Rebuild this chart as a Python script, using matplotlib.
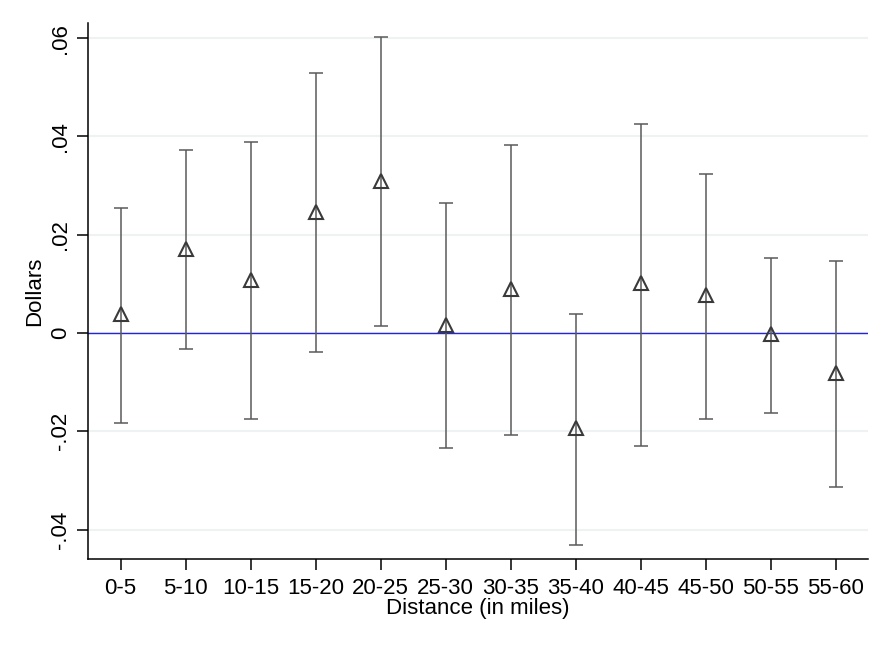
import numpy as np
import matplotlib
matplotlib.use("Agg")
import matplotlib.pyplot as plt

plt.rcParams['font.family'] = ['Liberation Sans', 'DejaVu Sans']

# distance bins and point estimates with confidence bounds
bins = ["0-5", "5-10", "10-15", "15-20", "20-25", "25-30",
        "30-35", "35-40", "40-45", "45-50", "50-55", "55-60"]
est = [0.0039, 0.0171, 0.0107, 0.0247, 0.0310, 0.0016,
       0.0090, -0.0194, 0.0101, 0.0077, -0.0003, -0.0081]
upper = [0.0255, 0.0372, 0.0388, 0.0530, 0.0602, 0.0264,
         0.0382, 0.0038, 0.0426, 0.0324, 0.0152, 0.0146]
lower = [-0.0183, -0.0032, -0.0176, -0.0039, 0.0015, -0.0235,
         -0.0208, -0.0431, -0.0229, -0.0175, -0.0163, -0.0313]
yticks = [-0.04, -0.02, 0, 0.02, 0.04, 0.06]
ytick_labels = ["-.04", "-.02", "0", ".02", ".04", ".06"]

x = np.arange(len(bins))
est = np.array(est)
err = np.array([est - np.array(lower), np.array(upper) - est])

fig = plt.figure(figsize=(8.91, 6.48), dpi=100)
ax = fig.add_axes([88 / 891, 1 - 559 / 648, 780 / 891, 536 / 648])

for yv in yticks:
    ax.axhline(yv, color="#eef2f3", lw=1.5, zorder=0)
ax.axhline(0, color="#2525d8", lw=1.0, zorder=1)

ax.errorbar(x, est, yerr=err, fmt="none", ecolor="#5a5a5a", elinewidth=1.1,
            capsize=5, capthick=1.1, zorder=2)
ax.plot(x, est, linestyle="none", marker="^", markersize=10,
        markerfacecolor="none", markeredgecolor="#3a3a3a", markeredgewidth=1.5, zorder=3)

ax.set_xlim(-0.5, 11.5)
ax.set_ylim(-0.046, 0.0631)
ax.set_xticks(x)
ax.set_xticklabels(bins, fontsize=16)
ax.set_yticks(yticks)
ax.set_yticklabels(ytick_labels, fontsize=16, rotation=90, va="center")
ax.tick_params(axis="both", length=8, width=1.1, color="black")
ax.tick_params(axis="x", pad=6)
ax.tick_params(axis="y", pad=4)

ax.spines["top"].set_visible(False)
ax.spines["right"].set_visible(False)
ax.spines["left"].set_linewidth(1.1)
ax.spines["bottom"].set_linewidth(1.1)

ax.set_xlabel("Distance (in miles)", fontsize=16, labelpad=-1)
ax.set_ylabel("Dollars", fontsize=16, labelpad=4)

fig.savefig("out.png", dpi=100, facecolor="white")
